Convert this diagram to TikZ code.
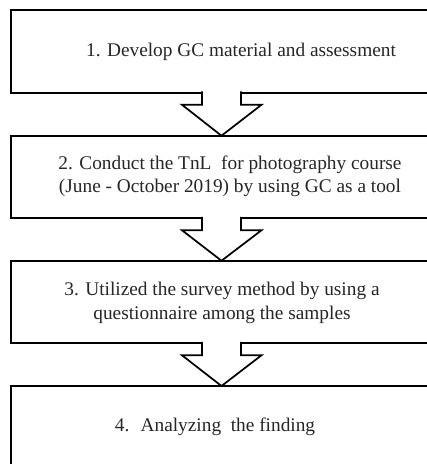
\documentclass[tikz,border=0pt]{standalone}
\usepackage{fontspec}
\setmainfont{Liberation Serif}
\usetikzlibrary{calc}

\begin{document}
\begin{tikzpicture}[
  x=0.75pt,y=-0.75pt,
  stepbox/.style={draw,line width=1.3pt,minimum width=345pt,minimum height=61.9pt,inner sep=0pt,outer sep=0pt},
  steptext/.style={align=center,text=black!85,font=\fontsize{14.5}{17.5}\selectfont},
  blockarrow/.style={draw,fill=white,line width=1.3pt,line join=miter}
]
  \useasboundingbox (0,0) rectangle (427,464);
  \clip (0,0) rectangle (427,464);

  \node[stepbox] (box1) at (241,51.5) {};
  \node[stepbox] (box2) at (241,177) {};
  \node[stepbox] (box3) at (241,302) {};
  \node[stepbox] (box4) at (241,427.25) {};
  \coordinate (ax) at (221.5,0);

  \node[steptext] (txt1) at (241,52) {1. Develop GC material and assessment};
  \node[steptext] (txt2) at (230,176) {2. Conduct the TnL~ for photography course\\(June - October 2019) by using GC as a tool};
  \node[steptext] (txt3) at (222,303) {3. Utilized the survey method by using a\\questionnaire among the samples};
  \node[steptext] (txt4) at (215,427) {4.~ Analyzing~ the finding};

  % block arrows between the steps
  \foreach \a/\b in {box1/box2,box2/box3,box3/box4}
    \draw[blockarrow] ($(\a.south -| ax)+(-19.5,-1.5)$) -- ++(0,13.5) -- ++(-20,0)
      -- (\b.north -| ax) -- ($(\a.south -| ax)+(40,12)$) -- ++(-20.5,0) -- ++(0,-13.5);
\end{tikzpicture}
\end{document}
